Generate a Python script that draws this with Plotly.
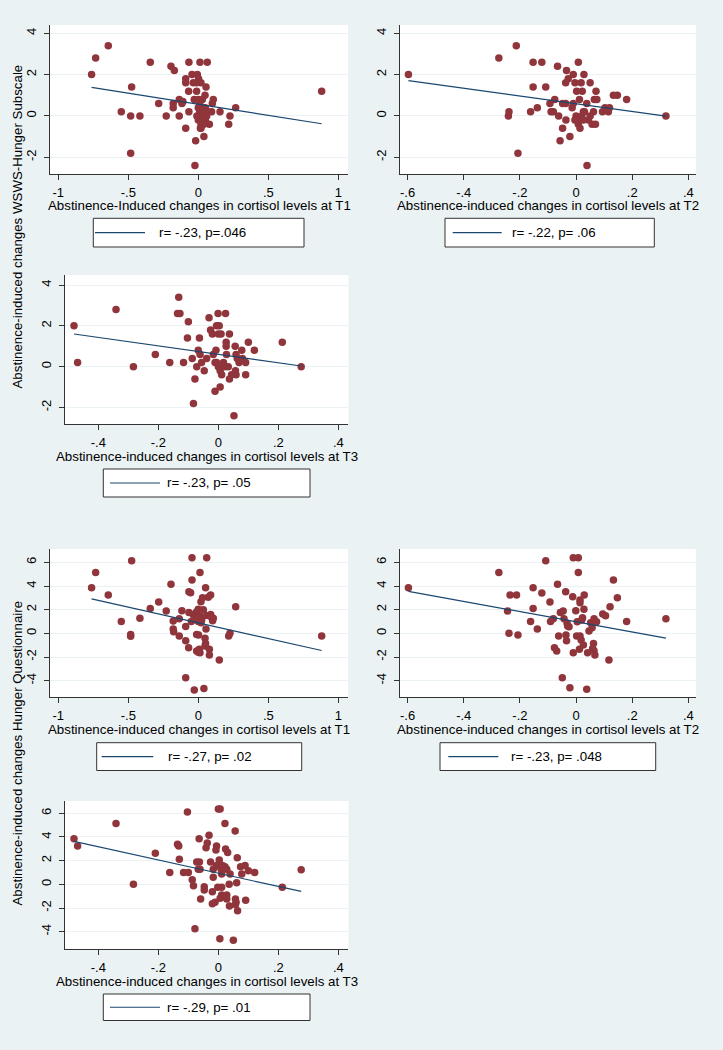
import plotly.graph_objects as go

W, H = 723, 1050

# ---------------- data ----------------
p1_x = [-0.762, -0.733, -0.643, -0.55, -0.483, -0.476, -0.417, -0.483, -0.343, -0.283, -0.229, -0.195,
        -0.171, -0.179, -0.179, -0.136, -0.136, -0.117, -0.09, -0.09, -0.09, -0.067, -0.069, -0.067,
        -0.045, -0.036, -0.029, -0.019, -0.024, -0.007, 0.002, -0.012, -0.012, 0.012, 0.064, 0.019,
        0.029, 0.055, 0.048, 0.04, 0.019, 0.079, 0.107, 0.1, 0.095, 0.155, 0.217, 0.226, 0.267, 0.881,
        0.0, 0.01, 0.02, 0.03, 0.0, 0.04, 0.05, 0.06, 0.02, 0.01, 0.03, -0.01, 0.05, 0.07, 0.0, 0.04,
        0.015, 0.035, -0.11]
p1_y = [2.0, 2.8, 3.4, 0.2, 0.0, 1.4, 0.0, -1.8, 2.6, 0.6, 0.0, 2.4,
        2.2, 0.6, 0.4, 0.8, 0.0, 0.6, 1.8, 1.6, -0.6, 2.6, 1.2, 0.2,
        2.0, 1.6, 0.8, -1.2, -2.4, 2.0, 1.8, 1.6, 1.2, 2.6, 2.6, 1.6,
        0.8, 1.4, 1.0, -1.0, -0.6, -0.4, 0.8, 0.6, 0.2, 0.2, -0.4, 0.0, 0.4, 1.2,
        0.4, 0.2, 0.0, -0.2, -0.2, 0.2, 0.4, 0.0, -0.4, 0.6, 0.4, 0.0, -0.2, 0.2, 0.8, -0.4,
        -0.6, 0.0, 0.7]

p2_x = [-0.597, -0.275, -0.213, -0.241, -0.239, -0.207, -0.162, -0.153, -0.153, -0.138, -0.122, -0.108,
        -0.093, -0.089, -0.081, -0.076, -0.066, -0.062, -0.057, -0.048, -0.048, -0.037, -0.034, -0.037,
        -0.036, -0.028, -0.022, -0.014, -0.01, -0.01, -0.004, 0.002, 0.008, 0.012, 0.018, 0.022, 0.028,
        0.026, 0.038, 0.039, 0.05, 0.044, 0.057, 0.062, 0.069, 0.071, 0.065, 0.074, 0.094, 0.103, 0.115,
        0.119, 0.133, 0.147, 0.18, 0.32,
        0.0, 0.002, 0.008, 0.014, -0.004, 0.02, 0.026, 0.05, 0.03]
p2_y = [2.0, 2.8, 3.4, 0.0, 0.2, -1.8, 0.2, 2.6, 1.4, 0.4, 2.6, 1.4,
        0.6, 0.2, 0.2, 0.8, 2.4, 0.0, -1.2, 0.6, -0.6, 1.6, 2.2, 0.6,
        -0.2, 1.8, -1.0, 0.4, 0.6, 2.0, 1.6, 1.2, 2.6, 0.8, 1.6, 1.2, 2.0,
        0.2, 0.6, -2.4, 1.6, -0.2, -0.4, 0.2, -0.4, 1.2, 0.8, 0.8, 0.2, 0.4, 0.2,
        0.4, 1.0, 1.0, 0.8, 0.0,
        0.0, -0.2, -0.4, -0.6, -0.2, 0.0, -0.2, 0.0, 0.2]

p3_x = [-0.481, -0.469, -0.341, -0.283, -0.21, -0.162, -0.132, -0.136, -0.128, -0.116, -0.103, -0.1,
        -0.087, -0.083, -0.078, -0.072, -0.063, -0.067, -0.061, -0.056, -0.047, -0.039, -0.031, -0.026,
        -0.02, -0.017, -0.011, -0.008, -0.011, -0.006, -0.001, 0.0, 0.003, 0.006, 0.009, 0.024, 0.026,
        0.026, 0.027, 0.033, 0.037, 0.037, 0.044, 0.052, 0.056, 0.059, 0.063, 0.069, 0.078, 0.08, 0.091,
        0.091, 0.1, 0.12, 0.213, 0.276,
        0.0, 0.006, 0.011, 0.017, 0.022, 0.057, 0.059, -0.006]
p3_y = [2.0, 0.2, 2.8, 0.0, 0.6, 0.2, 3.4, 2.6, 2.6, 0.2, 1.4, 2.2,
        0.4, -1.8, -0.6, 0.0, 1.4, 0.8, 0.6, 0.2, -0.2, 0.4, 2.4, 1.8,
        1.6, 0.6, -1.2, 0.8, 0.2, 2.0, 2.6, 1.6, 2.0, -1.0, 1.6, 2.6, 1.2,
        1.0, 0.6, 0.0, -0.6, 1.6, -0.4, -2.4, 1.0, 0.6, 0.4, 0.2, 0.8, 0.4, 0.2,
        -0.4, 1.2, 0.8, 1.2, 0.0,
        0.0, -0.2, -0.4, 0.2, 0.0, -0.2, -0.4, 0.2]

p4_x = [-0.762, -0.733, -0.643, -0.55, -0.483, -0.483, -0.476, -0.417, -0.343, -0.283, -0.229, -0.195,
        -0.179, -0.179, -0.176, -0.136, -0.117, -0.136, -0.09, -0.09, -0.09, -0.069, -0.067, -0.055,
        -0.067, -0.045, -0.045, -0.036, -0.029, -0.024, -0.012, 0.0, 0.012, 0.024, -0.012, 0.002,
        -0.012, 0.007, 0.012, 0.012, 0.019, 0.04, 0.052, 0.06, 0.055, 0.048, 0.052, 0.048, 0.036,
        0.071, 0.088, 0.079, 0.079, 0.088, 0.102, 0.107, 0.15, 0.217, 0.226, 0.267, 0.881,
        0.0, 0.02, -0.03, 0.06, 0.03, -0.05, 0.09, 0.0]
p4_y = [3.86, 5.13, 3.24, 1.01, -0.1, -0.25, 6.14, 1.27, 2.11, 2.65, 1.89, 4.14,
        1.04, 0.37, 0.14, -0.23, 1.92, 1.24, 0.59, -0.62, -3.75, -1.21, 3.52, 3.44,
        1.77, 4.51, 6.39, 1.6, -4.79, 1.41, 1.83, 2.03, 1.46, 1.13, -0.1, -0.14,
        -1.49, -1.35, -1.63, 5.13, 2.68, -4.65, 3.86, 6.39, 0.37, -0.42, -0.85, -1.07, 2.0,
        3.04, 3.24, -1.35, -1.83, 1.6, 1.07, 1.27, -2.25, -0.23, 0.0, 2.25, -0.23,
        1.0, 0.9, 1.2, 1.5, 3.0, 1.0, 1.4, -1.6]

p5_x = [-0.597, -0.275, -0.244, -0.239, -0.235, -0.212, -0.207, -0.162, -0.153, -0.153, -0.138, -0.122,
        -0.108, -0.093, -0.091, -0.081, -0.077, -0.069, -0.066, -0.062, -0.056, -0.049, -0.046, -0.043,
        -0.037, -0.036, -0.034, -0.032, -0.025, -0.03, -0.022, -0.012, -0.01, 0.008, -0.01, -0.001,
        0.004, 0.008, 0.002, 0.014, 0.018, 0.012, 0.014, 0.014, 0.02, 0.023, 0.028, 0.029, 0.026,
        0.038, 0.041, 0.046, 0.052, 0.057, 0.059, 0.062, 0.064, 0.064, 0.067, 0.073, 0.095, 0.105,
        0.117, 0.121, 0.133, 0.147, 0.18, 0.32]
p5_y = [3.86, 5.13, 1.89, 0.0, 3.24, 3.24, -0.14, 1.01, 3.86, 2.11, 0.37, 3.41,
        6.14, 2.65, 1.01, 1.24, -1.21, -1.49, 4.14, -0.23, 1.77, -3.75, 1.89, 1.24,
        3.52, -0.14, -0.62, 0.85, 0.56, 0.62, -4.59, 3.1, 6.39, 6.39, -1.63, 1.92,
        0.99, 5.13, -0.23, -0.23, -0.56, -1.35, 2.82, 2.59, 1.13, 1.32, 2.03, 3.24, -0.99,
        -4.73, -1.63, 0.2, 0.9, 0.48, -1.27, -0.85, -1.46, 1.24, -1.83, 0.99, 1.63, 1.49,
        -2.25, 2.25, 4.51, 3.01, 1.01, 1.24]

p6_x = [-0.481, -0.469, -0.341, -0.283, -0.21, -0.162, -0.136, -0.132, -0.13, -0.116, -0.1, -0.103,
        -0.087, -0.083, -0.078, -0.072, -0.063, -0.064, -0.067, -0.061, -0.059, -0.047, -0.047, -0.041,
        -0.037, -0.031, -0.026, -0.02, -0.02, -0.017, -0.017, -0.011, -0.006, -0.008, -0.006, 0.0,
        0.006, -0.002, 0.003, 0.006, 0.009, 0.011, 0.011, 0.011, 0.014, 0.022, 0.022, 0.024, 0.028,
        0.028, 0.028, 0.031, 0.036, 0.039, 0.037, 0.056, 0.057, 0.059, 0.057, 0.061, 0.063, 0.064,
        0.074, 0.078, 0.089, 0.091, 0.1, 0.121, 0.213, 0.276, 0.005, 0.05]
p6_y = [3.86, 3.24, 5.13, 0.0, 2.62, 1.01, 3.38, 3.24, 2.11, 1.01, 1.01, 6.11,
        0.39, -0.11, -3.75, 1.89, 1.89, 3.86, 1.27, 1.27, -1.24, -0.2, -0.48, 3.1,
        3.49, 4.14, 1.89, -0.62, -1.63, 1.27, 0.59, -1.52, 3.24, 2.9, 1.6, 6.37,
        6.37, -0.25, 2.06, -1.18, 1.27, 0.87, -0.9, -0.25, 1.6, 1.49, 5.13, 2.99, 1.27,
        -0.9, -1.24, 2.68, 0.0, 0.87, -1.83, 4.51, -1.24, -1.52, -1.7, 0.14, 2.25, -2.23,
        1.49, 0.87, 1.6, -1.35, 1.15, 1.01, -0.25, 1.24, -4.6, -4.73]

# fitted-line values at the lowest and highest x
fit1_y = [1.38, -0.38]
fit2_y = [1.71, -0.01]
fit3_y = [1.60, 0.03]
fit4_y = [2.92, -1.45]
fit5_y = [3.55, -0.40]
fit6_y = [3.63, -0.60]

legend_texts = ["r= -.23, p=.046", "r= -.22, p= .06", "r= -.23, p= .05",
                "r= -.27, p= .02", "r= -.23, p= .048", "r= -.29, p= .01"]
xtitles = ["Abstinence-Induced changes in cortisol levels at T1",
           "Abstinence-induced changes in cortisol levels at T2",
           "Abstinence-induced changes in cortisol levels at T3",
           "Abstinence-induced changes in cortisol levels at T1",
           "Abstinence-induced changes in cortisol levels at T2",
           "Abstinence-induced changes in cortisol levels at T3"]
ytitle_top = "Abstinence-induced changes WSWS-Hunger Subscale"
ytitle_bottom = "Abstinence-induced changes Hunger Questionnaire"

xt_T1 = [-1, -0.5, 0, 0.5, 1]
xt_T1_lab = ["-1", "-.5", "0", ".5", "1"]
xt_T2 = [-0.6, -0.4, -0.2, 0, 0.2, 0.4]
xt_T2_lab = ["-.6", "-.4", "-.2", "0", ".2", ".4"]
xt_T3 = [-0.4, -0.2, 0, 0.2, 0.4]
xt_T3_lab = ["-.4", "-.2", "0", ".2", ".4"]
yt_top = [-2, 0, 2, 4]
yt_bottom = [-4, -2, 0, 2, 4, 6]

# ---------------- layout geometry (pixels) ----------------
BG = "#eaf2f3"
MAROON = "#90353b"
NAVY = "#1a476f"
FONT = "Liberation Sans"
FS = 13.3
TFS = 13.0

panels = [
    dict(box=(50, 348, 25, 174), xr=[-1.059, 1.069], yr=[-2.81, 4.40], xt=(xt_T1, xt_T1_lab), yt=yt_top,
         x=p1_x, y=p1_y, fy=fit1_y, leg=(93.3, 304, 218.3, 247, 95, 145, 156.7), xty=205.5),
    dict(box=(400, 695.7, 25, 174), xr=[-0.627, 0.426], yr=[-2.81, 4.40], xt=(xt_T2, xt_T2_lab), yt=yt_top,
         x=p2_x, y=p2_y, fy=fit2_y, leg=(445, 654.3, 218.3, 247, 452.7, 501.7, 510), xty=205.5),
    dict(box=(65, 348.3, 275, 424), xr=[-0.511, 0.433], yr=[-2.81, 4.49], xt=(xt_T3, xt_T3_lab), yt=yt_top,
         x=p3_x, y=p3_y, fy=fit3_y, leg=(103.3, 310, 469, 497, 110, 160, 165), xty=456.5),
    dict(box=(50, 348, 549.3, 697.3), xr=[-1.059, 1.069], yr=[-5.40, 7.10], xt=(xt_T1, xt_T1_lab), yt=yt_bottom,
         x=p4_x, y=p4_y, fy=fit4_y, leg=(96.7, 301.7, 742.7, 770.5, 101.7, 153.3, 165.7), xty=729.5),
    dict(box=(400, 695.7, 549.3, 697.3), xr=[-0.627, 0.426], yr=[-5.40, 7.10], xt=(xt_T2, xt_T2_lab), yt=yt_bottom,
         x=p5_x, y=p5_y, fy=fit5_y, leg=(440, 655.7, 742.7, 770.5, 448.3, 498.3, 509), xty=729.5),
    dict(box=(65, 348.3, 801, 949), xr=[-0.511, 0.433], yr=[-5.46, 7.04], xt=(xt_T3, xt_T3_lab), yt=yt_bottom,
         x=p6_x, y=p6_y, fy=fit6_y, leg=(103.3, 310, 994, 1020.5, 110, 160, 165), xty=981),
]


def px(x):
    return x / W


def py(y):
    return 1 - y / H


fig = go.Figure()
shapes = []
annotations = []

for i, p in enumerate(panels, start=1):
    xa = "x" if i == 1 else f"x{i}"
    ya = "y" if i == 1 else f"y{i}"
    x0, x1, y0, y1 = p["box"]
    fig.add_trace(go.Scatter(
        x=p["x"], y=p["y"], mode="markers", xaxis=xa, yaxis=ya, showlegend=False,
        marker=dict(color=MAROON, size=7.5, line=dict(width=0)), hoverinfo="skip"))
    fx = [min(p["x"]), max(p["x"])]
    fig.add_trace(go.Scatter(
        x=fx, y=p["fy"], mode="lines", xaxis=xa, yaxis=ya, showlegend=False,
        line=dict(color=NAVY, width=1.2), hoverinfo="skip"))

    axis_common = dict(showline=True, linecolor="#333333", linewidth=1, ticks="outside",
                       ticklen=5, tickwidth=1, tickcolor="#333333", zeroline=False,
                       tickfont=dict(family=FONT, size=TFS, color="#000000"))
    fig.update_layout(**{
        ("xaxis" if i == 1 else f"xaxis{i}"): dict(
            domain=[px(x0), px(x1)], range=p["xr"], anchor=ya, showgrid=False,
            tickvals=p["xt"][0], ticktext=p["xt"][1], tickangle=0, ticklabelstandoff=1,
            **axis_common),
        ("yaxis" if i == 1 else f"yaxis{i}"): dict(
            domain=[py(y1), py(y0)], range=p["yr"], anchor=xa, showgrid=True,
            gridcolor=BG, gridwidth=1, tickvals=p["yt"], ticktext=[str(v) for v in p["yt"]],
            tickangle=-90, ticklabelstandoff=3, **axis_common),
    })
    shapes.append(dict(type="rect", xref="paper", yref="paper", x0=px(x0), x1=px(x1),
                       y0=py(y1), y1=py(y0), fillcolor="white", line=dict(width=0), layer="below"))
    annotations.append(dict(text=xtitles[i - 1], xref="paper", yref="paper", x=px((x0 + x1) / 2),
                            y=py(p["xty"]), xanchor="center", yanchor="middle", showarrow=False,
                            font=dict(family=FONT, size=FS, color="#000000")))
    lx0, lx1, ly0, ly1, ll0, ll1, ltx = p["leg"]
    shapes.append(dict(type="rect", xref="paper", yref="paper", x0=px(lx0), x1=px(lx1),
                       y0=py(ly1), y1=py(ly0), fillcolor="white",
                       line=dict(color="#333333", width=1)))
    ymid = (ly0 + ly1) / 2
    shapes.append(dict(type="line", xref="paper", yref="paper", x0=px(ll0), x1=px(ll1),
                       y0=py(ymid), y1=py(ymid), line=dict(color=NAVY, width=1.2)))
    annotations.append(dict(text=legend_texts[i - 1], xref="paper", yref="paper", x=px(ltx),
                            y=py(ymid), xanchor="left", yanchor="middle", showarrow=False,
                            font=dict(family=FONT, size=FS, color="#000000")))

annotations.append(dict(text=ytitle_top, xref="paper", yref="paper", x=px(17.0), y=py(226.5),
                        xanchor="center", yanchor="middle", textangle=-90, showarrow=False,
                        font=dict(family=FONT, size=FS, color="#000000")))
annotations.append(dict(text=ytitle_bottom, xref="paper", yref="paper", x=px(17.0), y=py(753.5),
                        xanchor="center", yanchor="middle", textangle=-90, showarrow=False,
                        font=dict(family=FONT, size=FS, color="#000000")))

fig.update_layout(width=W, height=H, margin=dict(l=0, r=0, t=0, b=0),
                  paper_bgcolor=BG, plot_bgcolor="white", shapes=shapes, annotations=annotations,
                  showlegend=False)

fig.write_html("out.html", config={"displayModeBar": False},
               post_script="document.body.style.margin='0';document.body.style.background='" + BG + "';")
